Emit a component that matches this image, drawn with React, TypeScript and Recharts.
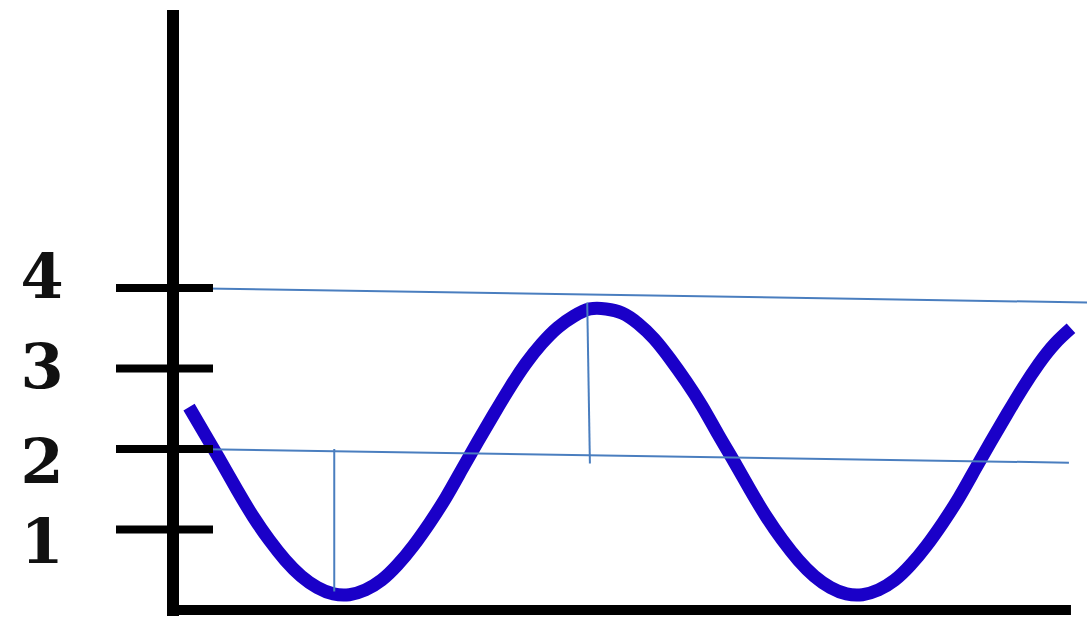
import { LineChart, Line, XAxis, YAxis, ReferenceLine } from "recharts";

// wave (x in quarter-periods, y in axis units)
const waveT = [
  0.125, 0.25, 0.375, 0.5, 0.625, 0.75, 0.875, 1.0, 1.125, 1.25, 1.375, 1.5, 1.625, 1.75, 1.875,
  2.0, 2.125, 2.25, 2.375, 2.5, 2.625, 2.75, 2.875, 3.0, 3.125, 3.25, 3.375, 3.5, 3.625, 3.75, 3.875,
  4.0, 4.125, 4.25, 4.375, 4.5, 4.625, 4.75, 4.875, 5.0, 5.125, 5.25, 5.375, 5.5, 5.625, 5.75, 5.875,
  6.0, 6.125, 6.25, 6.375, 6.5, 6.625, 6.75, 6.875, 7.0,
];
const waveV = [
  2.52, 2.18, 1.84, 1.49, 1.16, 0.87, 0.62, 0.42, 0.28, 0.2, 0.19, 0.25, 0.37, 0.56, 0.8,
  1.08, 1.39, 1.74, 2.09, 2.43, 2.76, 3.06, 3.31, 3.51, 3.65, 3.74, 3.74, 3.69, 3.56, 3.37, 3.12,
  2.84, 2.53, 2.18, 1.84, 1.49, 1.16, 0.87, 0.62, 0.42, 0.28, 0.2, 0.19, 0.25, 0.37, 0.56, 0.8,
  1.08, 1.39, 1.74, 2.09, 2.43, 2.76, 3.06, 3.31, 3.5,
];

const yTicks = [1, 2, 3, 4];

// thin annotation lines drawn over the wave
const topLine = [
  { t: 0, v: 4.0 },
  { t: 7.125, v: 3.82 },
];
const midLine = [
  { t: 0.133, v: 2.0 },
  { t: 6.984, v: 1.83 },
];
const troughMark = [
  { t: 1.257, v: 2.0 },
  { t: 1.257, v: 0.23 },
];
const crestMark = [
  { t: 3.229, v: 3.82 },
  { t: 3.25, v: 1.82 },
];

const waveData = waveT.map((t, i) => ({ t, v: waveV[i] }));

// label nudges so the digits sit like in the drawing
const labelDy: Record<number, number> = { 4: 10, 3: 19, 2: 34, 1: 33 };

function AxisTick(props: any) {
  const { x, y, payload } = props;
  return (
    <g>
      <line x1={x - 57} x2={x + 40} y1={y} y2={y} stroke="#000" strokeWidth={8} />
      <text
        x={x - 131}
        y={y + (labelDy[payload.value] ?? 20)}
        textAnchor="middle"
        fontFamily="DejaVu Serif"
        fontWeight="bold"
        fontSize={62}
        fill="#111"
      >
        {payload.value}
      </text>
    </g>
  );
}

const thin = { stroke: "#4a7ebf", strokeWidth: 2 };

export default function App() {
  return (
    <div style={{ position: "absolute", left: 0, top: 0, background: "#fff" }}>
      <LineChart width={1087} height={620} margin={{ top: 16, right: 0, bottom: 10, left: 0 }}>
        <XAxis type="number" dataKey="t" domain={[0, 7.125]} hide allowDataOverflow />
        <YAxis
          type="number"
          domain={[0, 7.379]}
          ticks={yTicks}
          interval={0}
          width={173}
          tickSize={0}
          tickMargin={0}
          tickLine={false}
          tick={<AxisTick />}
          axisLine={{ stroke: "#000", strokeWidth: 12, strokeLinecap: "square" }}
          allowDataOverflow
        />
        <ReferenceLine
          segment={[
            { x: 0, y: 0 },
            { x: 7, y: 0 },
          ]}
          stroke="#000"
          strokeWidth={10}
        />
        <Line
          data={waveData}
          dataKey="v"
          type="natural"
          stroke="#1a00c8"
          strokeWidth={13}
          dot={false}
          activeDot={false}
          isAnimationActive={false}
        />
        {[topLine, midLine, troughMark, crestMark].map((d, i) => (
          <Line
            key={i}
            data={d}
            dataKey="v"
            type="linear"
            {...thin}
            dot={false}
            activeDot={false}
            isAnimationActive={false}
          />
        ))}
      </LineChart>
    </div>
  );
}
